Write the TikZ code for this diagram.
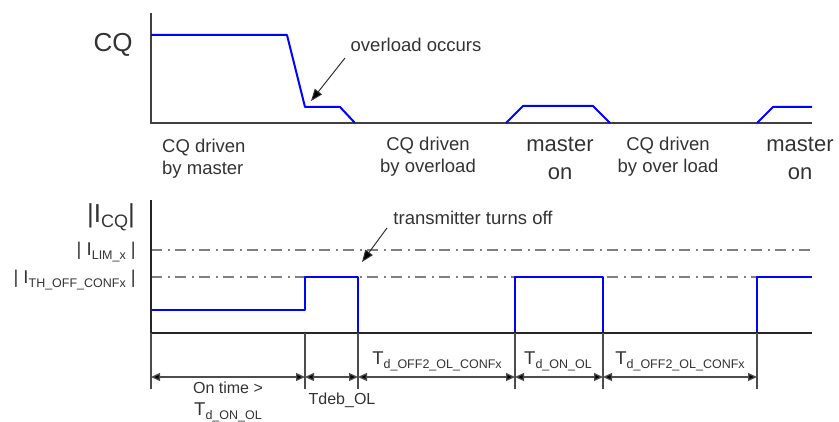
\documentclass[tikz,border=0pt]{standalone}
\usepackage{fontspec}
\setmainfont{Liberation Sans}
\usetikzlibrary{arrows.meta}
\definecolor{txt}{HTML}{333333}
\definecolor{axgray}{HTML}{404040}
\definecolor{dgray}{HTML}{808080}
\definecolor{sig}{HTML}{0000FF}
\newcommand{\sbs}[1]{\raisebox{-0.35ex}{\fontsize{12.5}{13}\selectfont #1}}
\tikzset{
  lbl/.style={text=txt, font=\fontsize{18.5}{22.5}\selectfont, inner sep=0pt, anchor=base, align=center},
  biglbl/.style={text=txt, font=\fontsize{22}{28}\selectfont, inner sep=0pt, anchor=base, align=center},
  huge/.style={text=txt, font=\fontsize{26}{30}\selectfont, inner sep=0pt, anchor=base},
  small/.style={text=txt, font=\fontsize{16}{24}\selectfont, inner sep=0pt, anchor=base, align=center},
  axis/.style={line width=2.2pt, draw=axgray},
  axisb/.style={line width=2pt, draw=black!85},
  wave/.style={line width=2pt, draw=sig, line join=round},
  level/.style={line width=2pt, draw=dgray, dash pattern=on 11pt off 6pt on 2pt off 5pt},
  tick/.style={line width=1.3pt, draw=black!70},
  dim/.style={line width=1.3pt, draw=black!70, {Triangle[length=9pt,width=8pt,fill=black]}-{Triangle[length=9pt,width=8pt,fill=black]}},
  pointer/.style={line width=1pt, draw=black!80, -{Triangle[length=12pt,width=9pt,fill=black]}}
}
\begin{document}
\begin{tikzpicture}[x=1pt,y=-1pt]
\useasboundingbox (0,0) rectangle (839,422);
% ---------- top panel ----------
\coordinate (ta0) at (151,13);
\coordinate (tO) at (151,123);
\coordinate (tE) at (812,123);
\draw[axis] (ta0) -- (tO) -- (tE);
\draw[wave] (151,35) -- (287,35) -- (305,107) -- (340,107) -- (355,123);
\draw[wave] (506,123) -- (523,106) -- (593,106) -- (610,123);
\draw[wave] (757,123) -- (773,107) -- (812,107);
\node[huge] (cq) at (113,52) {CQ};
\node[lbl] (ovl) at (416,52) {overload occurs};
\coordinate (ovlTip) at (311,101);
\draw[pointer] (345,58) -- (ovlTip);
\node[lbl, align=left, anchor=base west] (d1) at (162,175) {CQ driven\\by master};
\node[lbl] (d2) at (428,173) {CQ driven\\by overload};
\node[biglbl] (m1) at (560,180) {master\\on};
\node[lbl] (d3) at (668,173) {CQ driven\\by over load};
\node[biglbl] (m2) at (800,180) {master\\on};
% ---------- bottom panel ----------
\coordinate (ba0) at (151,200);
\coordinate (bO) at (151,333);
\coordinate (bE) at (812,333);
\coordinate (lim0) at (151,250);
\coordinate (limE) at (812,250);
\coordinate (th0) at (151,277);
\coordinate (thE) at (812,277);
\draw[level] (lim0) -- (limE);
\draw[level] (th0) -- (thE);
\draw[wave] (151,310) -- (305,310) -- (305,277) -- (358,277) -- (358,333);
\draw[wave] (515,333) -- (515,277) -- (603,277) -- (603,333);
\draw[wave] (757,333) -- (757,277) -- (812,277);
\draw[axisb] (ba0) -- (bO) -- (bE);
\node[huge, anchor=base east] (icq) at (135,223) {|I\raisebox{-0.3ex}{\fontsize{18}{20}\selectfont CQ}|};
\node[lbl, anchor=base east] (ilim) at (136,256) {| I\sbs{LIM\_x} |};
\node[lbl, anchor=base east] (ith) at (136,284) {| I\sbs{TH\_OFF\_CONFx} |};
\node[lbl] (tto) at (473,225) {transmitter turns off};
\coordinate (ttoTip) at (362,262);
\draw[pointer] (387,228) -- (ttoTip);
% ticks
\foreach \x/\n in {151/a,305/b,358/c,515/d,603/e,757/f}{
  \coordinate (t\n) at (\x,333);
  \coordinate (u\n) at (\x,389);
  \coordinate (m\n) at (\x,377);
  \draw[tick] (t\n) -- (u\n);
}
\draw[dim] (ma) -- (mb);
\draw[dim] (mb) -- (mc);
\draw[dim] (mc) -- (md);
\draw[dim] (md) -- (me);
\draw[dim] (me) -- (mf);
\node[small] (l1) at (228,393) {On time >};
\node[lbl] (l1b) at (228,416) {T\sbs{d\_ON\_OL}};
\node[small] (l2) at (342,405) {Tdeb\_OL};
\node[lbl] (l3) at (437,365) {T\sbs{d\_OFF2\_OL\_CONFx}};
\node[lbl] (l4) at (558,365) {T\sbs{d\_ON\_OL}};
\node[lbl] (l5) at (680,365) {T\sbs{d\_OFF2\_OL\_CONFx}};
\end{tikzpicture}
\end{document}
